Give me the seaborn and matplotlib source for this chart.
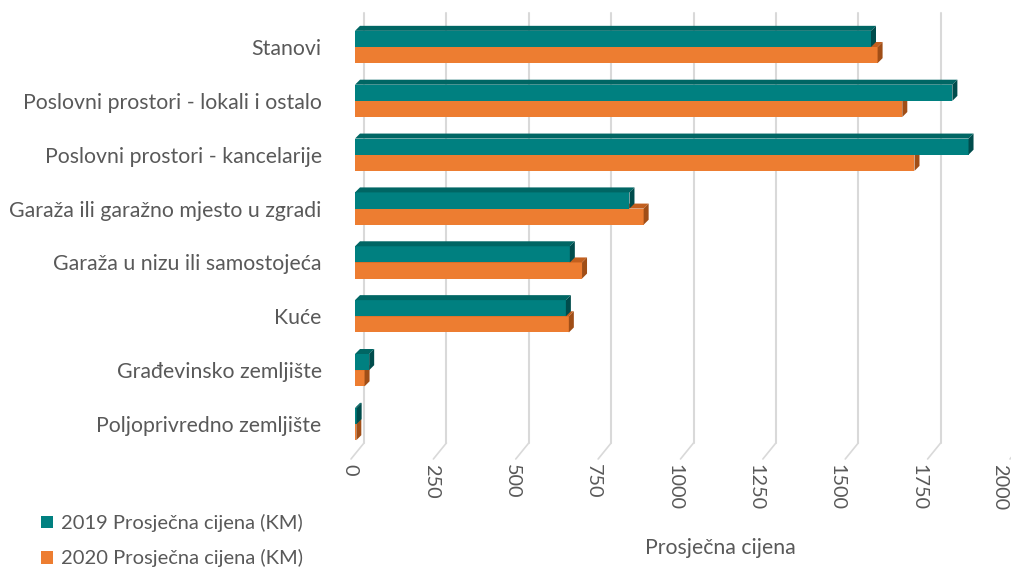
import numpy as np
import pandas as pd
import seaborn as sns
import matplotlib
matplotlib.use("Agg")
import matplotlib.pyplot as plt
from matplotlib.patches import Polygon
from matplotlib.transforms import ScaledTranslation, blended_transform_factory
from matplotlib.patches import Patch

categories = ["Stanovi", "Poslovni prostori - lokali i ostalo", "Poslovni prostori - kancelarije",
              "Garaža ili garažno mjesto u zgradi", "Garaža u nizu ili samostojeća", "Kuće",
              "Građevinsko zemljište", "Poljoprivredno zemljište"]
values_2019 = [1566, 1813, 1862, 833, 652, 640, 43, 5]
values_2020 = [1586, 1661, 1698, 876, 689, 649, 29, 4]
series = ["2019 Prosječna cijena (KM)", "2020 Prosječna cijena (KM)"]
xticks = [0, 250, 500, 750, 1000, 1250, 1500, 1750, 2000]
xlabel = "Prosječna cijena"

front_colors = ["#008080", "#ED7D31"]
top_colors = ["#006664", "#C25F1E"]
side_colors = ["#004C4C", "#A04E17"]
text_color = "#595959"

df = pd.DataFrame({
    "cat": categories * 2,
    "val": values_2019 + values_2020,
    "series": [series[0]] * len(categories) + [series[1]] * len(categories),
})

sns.set_theme(style="white")
plt.rcParams["font.family"] = ["Lato", "DejaVu Sans"]

W, H = 1012, 569
fig = plt.figure(figsize=(W / 100, H / 100), dpi=100)
ax_left, ax_right, ax_top, ax_bot = 355, 1014, 8, 460
ax = fig.add_axes([ax_left / W, 1 - ax_bot / H, (ax_right - ax_left) / W, (ax_bot - ax_top) / H])

sns.barplot(data=df, y="cat", x="val", hue="series", order=categories, hue_order=series,
            palette=front_colors, width=0.6, ax=ax, legend=False, linewidth=0, saturation=1)

ax.set_xlim(0, 2000)
ax.set_ylim(7.668, -0.724)

px_per_x = (ax_right - ax_left) / 2000
px_per_y = (ax_bot - ax_top) / (7.668 + 0.724)
dx = 5 / px_per_x
dy = 5 / px_per_y

# 3D faces
for i, cont in enumerate(ax.containers):
    z_front = 4 if i == 0 else 2
    for p in cont.patches:
        p.set_zorder(z_front)
        x0, y0 = p.get_x(), p.get_y()
        w, h = p.get_width(), p.get_height()
        ytop = y0
        top = Polygon([(x0, ytop), (x0 + dx, ytop - dy), (x0 + w + dx, ytop - dy), (x0 + w, ytop)],
                      closed=True, facecolor=top_colors[i], edgecolor="none", zorder=z_front + 0.5)
        side = Polygon([(x0 + w, ytop), (x0 + w + dx, ytop - dy), (x0 + w + dx, ytop + h - dy), (x0 + w, ytop + h)],
                       closed=True, facecolor=side_colors[i], edgecolor="none", zorder=z_front + 0.5)
        ax.add_patch(top)
        ax.add_patch(side)

# back-wall gridlines with floor diagonals
blend = blended_transform_factory(ax.transData, ax.transAxes)
floor_back = (ax_bot - 443) / (ax_bot - ax_top)
top_frac = (ax_bot - 13) / (ax_bot - ax_top)
for v in xticks:
    t_back = blend + ScaledTranslation(9 / 100, 0, fig.dpi_scale_trans)
    ax.plot([v, v], [floor_back, top_frac], transform=t_back, color="#D9D9D9", lw=1.5, zorder=0.5, clip_on=False)
    ax.plot([v, v - 13 / px_per_x], [floor_back, floor_back - 16 / (ax_bot - ax_top)], transform=t_back,
            color="#D9D9D9", lw=1.2, zorder=0.5, clip_on=False)

for s in ax.spines.values():
    s.set_visible(False)
ax.grid(False)
ax.set_xticks(xticks)
ax.set_xticklabels([])
ax.tick_params(axis="x", length=0)
for k, v in enumerate(xticks):
    off = -5 - 1.15 * k
    ax.text(v, 0, str(v), rotation=-90, ha="center", va="top", fontsize=14.3, color=text_color,
            transform=blend + ScaledTranslation(off / 100, -4 / 100, fig.dpi_scale_trans), clip_on=False)
ax.tick_params(axis="y", length=0, labelsize=15.3, labelcolor=text_color, pad=24)
ax.set_xlabel("")
ax.set_ylabel("")

fig.text(720 / W, 1 - 548 / H, xlabel, ha="center", va="center", fontsize=15.3, color=text_color)

handles = [Patch(facecolor=front_colors[0], edgecolor="none"), Patch(facecolor=front_colors[1], edgecolor="none")]
fig.legend(handles, series, loc="upper left", bbox_to_anchor=(35 / W, 1 - 508 / H), frameon=False,
           fontsize=14.5, labelcolor=text_color, handlelength=0.6, handleheight=0.6, handletextpad=0.4,
           labelspacing=0.85, borderaxespad=0, borderpad=0.3)

fig.savefig("out.png", dpi=100)
